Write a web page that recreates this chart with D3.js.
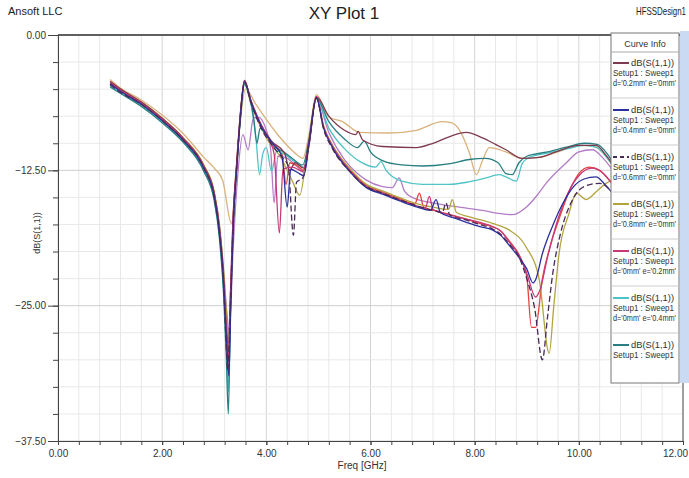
<!DOCTYPE html>
<html>
<head>
<meta charset="utf-8">
<script src="https://cdn.jsdelivr.net/npm/d3@7"></script>
<style>
  body { margin: 0; background: #fff; }
  text { font-family: "Liberation Sans Narrow", "Arial Narrow", "Liberation Sans", Arial, sans-serif; }
</style>
</head>
<body>
<div id="chart"></div>
<script>
// readings: [freq GHz, dB]
var s_d02 = [[1.0,-4.3],[1.2,-5.0],[1.6,-6.2],[2.0,-7.7],[2.4,-9.5],[2.8,-12.1],[3.0,-14.6],[3.1,-17.8],[3.18,-22.4],[3.23,-27],[3.27,-30],[3.31,-24],[3.36,-17],[3.43,-11.8],[3.5,-7.3],[3.58,-4.2],
  [3.7,-6.0],[3.9,-8.3],[4.1,-9.8],[4.35,-10.9],[4.45,-12.5],[4.55,-11.8],[4.72,-12.3],[4.82,-9.8],[4.96,-5.7],
  [5.2,-7.5],[5.5,-8.8],[5.72,-9.2],[5.76,-8.9],[5.85,-9.7],[6.23,-10.3],[6.88,-10.4],[7.2,-10.0],[7.51,-9.4],[7.84,-9.0],[8.15,-9.5],[8.4,-10.1],[8.6,-10.6],[8.91,-11.4],[9.24,-11.3],[9.56,-10.8],[10.0,-10.2],[10.33,-10.2],[10.52,-11.1],[10.7,-12.3],[10.9,-13.8]];

var s_d04 = [[1.0,-4.5],[1.2,-5.2],[1.6,-6.4],[2.0,-7.9],[2.4,-9.7],[2.8,-12.3],[3.0,-14.9],[3.1,-18.2],[3.18,-23],[3.23,-27.8],[3.28,-31.5],[3.32,-24.5],[3.37,-17],[3.44,-11.8],[3.5,-7.6],[3.58,-4.3],
  [3.7,-6.1],[3.9,-8.4],[4.1,-9.9],[4.3,-11.2],[4.4,-15.9],[4.47,-12.4],[4.6,-12.7],[4.72,-13.0],[4.82,-10.0],[4.96,-5.8],
  [5.1,-8.6],[5.27,-10.4],[5.6,-12.6],[5.92,-14.1],[6.23,-14.7],[6.55,-15.3],[6.9,-15.9],[7.15,-16.2],[7.26,-15.2],[7.34,-16.4],[7.6,-16.9],[7.84,-17.3],[8.1,-17.7],[8.34,-18.0],[8.5,-18.5],[8.66,-19.4],[8.86,-20.6],[9.0,-21.6],[9.12,-22.9],[9.17,-22.6],[9.3,-20.2],[9.5,-17.6],[9.7,-15.5],[9.9,-14.0],[10.1,-13.3],[10.33,-13.1],[10.5,-13.8],[10.7,-15.0],[10.9,-16.5]];

var s_d06 = [[1.0,-4.6],[1.2,-5.3],[1.6,-6.4],[2.0,-7.9],[2.4,-9.7],[2.8,-12.3],[3.0,-15.0],[3.1,-18.3],[3.18,-23],[3.22,-27.5],[3.26,-31],[3.31,-25],[3.36,-18],[3.43,-12.2],[3.5,-7.7],[3.58,-4.4],
  [3.7,-6.2],[3.9,-8.6],[4.1,-10.1],[4.3,-11.3],[4.42,-12.1],[4.52,-18.5],[4.58,-13.6],[4.7,-13.2],[4.82,-10.1],[4.96,-5.8],
  [5.1,-8.7],[5.27,-10.5],[5.6,-12.6],[5.92,-14.0],[6.23,-14.6],[6.55,-15.2],[6.9,-15.8],[7.2,-16.2],[7.38,-16.4],[7.45,-15.5],[7.52,-16.6],[7.84,-17.1],[8.1,-17.5],[8.34,-17.9],[8.5,-18.4],[8.66,-19.3],[8.86,-20.6],[9.0,-22.5],[9.15,-25.2],[9.3,-30.0],[9.4,-26.0],[9.5,-22.0],[9.65,-18.3],[9.85,-15.5],[10.1,-14.0],[10.4,-13.7],[10.6,-14.3],[10.9,-16.0]];

var s_d08 = [[1.0,-4.4],[1.2,-5.1],[1.6,-6.2],[2.0,-7.7],[2.4,-9.5],[2.8,-12.0],[3.0,-14.5],[3.1,-17.6],[3.18,-21.8],[3.23,-25.5],[3.28,-28],[3.32,-23.5],[3.37,-16.8],[3.44,-11.6],[3.5,-7.6],[3.58,-4.5],
  [3.7,-6.3],[4.0,-9.5],[4.3,-11.5],[4.5,-13.5],[4.64,-14.8],[4.8,-10.2],[4.96,-5.8],
  [5.1,-8.4],[5.27,-10.2],[5.6,-12.3],[5.92,-13.8],[6.23,-14.4],[6.55,-15.0],[6.9,-15.6],[7.2,-15.9],[7.5,-16.1],[7.57,-15.2],[7.65,-16.4],[7.9,-16.8],[8.34,-17.4],[8.66,-18.0],[8.99,-19.6],[9.24,-22.6],[9.43,-29.4],[9.52,-25.0],[9.62,-20.2],[9.81,-16.5],[9.95,-14.6],[10.14,-15.2],[10.35,-14.4],[10.52,-13.7],[10.7,-13.4],[10.9,-14.0]];

var s_e02 = [[1.0,-4.4],[1.2,-5.1],[1.6,-6.3],[2.0,-7.8],[2.4,-9.6],[2.8,-12.2],[3.0,-14.8],[3.1,-18],[3.18,-22.6],[3.23,-27.2],[3.27,-30.5],[3.31,-24.2],[3.36,-17.2],[3.43,-12],[3.5,-7.5],[3.58,-4.3],
  [3.7,-6.0],[3.9,-8.3],[4.05,-9.6],[4.15,-11.0],[4.25,-18.3],[4.32,-12.4],[4.5,-12.2],[4.7,-12.6],[4.82,-10.0],[4.96,-5.7],
  [5.1,-8.5],[5.27,-10.3],[5.6,-12.5],[5.92,-14.0],[6.23,-14.6],[6.55,-15.2],[6.9,-15.8],[7.05,-16.0],[7.13,-14.9],[7.2,-16.1],[7.5,-16.6],[7.84,-17.0],[8.1,-17.3],[8.34,-17.7],[8.5,-18.1],[8.66,-19.1],[8.86,-20.4],[9.0,-22.0],[9.17,-24.2],[9.25,-23.6],[9.4,-20.5],[9.6,-17.0],[9.8,-14.5],[10.0,-13.0],[10.25,-12.3],[10.45,-12.7],[10.65,-13.8],[10.9,-15.5]];

var s_e04 = [[1.0,-4.7],[1.2,-5.3],[1.6,-6.5],[2.0,-8.0],[2.4,-9.8],[2.8,-12.5],[3.0,-15.2],[3.1,-18.6],[3.18,-23.5],[3.23,-28.5],[3.27,-33],[3.31,-25],[3.36,-17.5],[3.43,-12.2],[3.5,-7.8],[3.58,-4.6],
  [3.65,-5.2],[3.72,-6.8],[3.8,-9.5],[3.87,-12.9],[3.93,-11.0],[4.0,-10.4],[4.1,-12.6],[4.2,-10.7],[4.4,-11.2],[4.6,-11.9],[4.72,-12.2],[4.82,-9.8],[4.96,-5.9],
  [5.2,-8.6],[5.5,-10.5],[5.8,-11.7],[6.1,-12.2],[6.2,-11.7],[6.3,-12.5],[6.6,-13.5],[7.0,-13.8],[7.5,-13.8],[7.85,-13.6],[8.22,-13.2],[8.47,-12.9],[8.6,-13.1],[8.8,-13.5],[8.91,-11.9],[9.05,-11.3],[9.4,-10.9],[9.8,-10.5],[10.1,-10.2],[10.35,-10.4],[10.55,-11.4],[10.75,-12.8],[10.9,-14.0]];

var s_e06 = [[1.0,-4.8],[1.2,-5.4],[1.6,-6.6],[2.0,-8.1],[2.4,-9.9],[2.8,-12.6],[3.0,-15.3],[3.1,-18.8],[3.18,-24],[3.23,-29.5],[3.27,-35],[3.31,-25.5],[3.36,-17.8],[3.43,-12.3],[3.5,-7.8],[3.58,-4.5],
  [3.68,-5.6],[3.76,-7.8],[3.82,-10.0],[3.88,-8.6],[4.0,-9.2],[4.12,-10.2],[4.3,-10.7],[4.5,-11.4],[4.7,-12.0],[4.82,-9.7],[4.96,-5.8],
  [5.2,-8.0],[5.5,-9.6],[5.75,-10.4],[5.88,-9.8],[6.0,-10.8],[6.23,-11.6],[6.6,-12.0],[7.0,-12.1],[7.5,-11.9],[7.9,-11.5],[8.2,-11.4],[8.45,-11.8],[8.6,-12.8],[8.72,-12.9],[8.85,-11.8],[9.0,-11.2],[9.4,-10.8],[9.8,-10.3],[10.1,-10.0],[10.35,-10.1],[10.55,-11.0],[10.75,-12.6],[10.9,-13.8]];

var s_red = [[1.0,-4.3],[1.2,-5.0],[1.6,-6.2],[2.0,-7.7],[2.4,-9.5],[2.8,-12.1],[3.0,-14.7],[3.1,-17.9],[3.18,-22.3],[3.24,-27],[3.28,-29.5],[3.32,-23.8],[3.37,-16.8],[3.44,-11.6],[3.5,-7.4],[3.58,-4.2],
  [3.7,-6.1],[3.9,-8.4],[4.1,-9.9],[4.3,-11.0],[4.38,-13.8],[4.45,-11.8],[4.6,-12.1],[4.72,-12.5],[4.82,-10.0],[4.96,-5.7],
  [5.1,-8.5],[5.27,-10.2],[5.6,-12.4],[5.92,-13.9],[6.23,-14.5],[6.55,-15.1],[6.85,-15.6],[6.94,-14.6],[7.02,-15.9],[7.3,-16.3],[7.84,-17.0],[8.1,-17.4],[8.34,-17.7],[8.5,-18.1],[8.66,-19.0],[8.86,-20.4],[9.0,-22.3],[9.09,-27.0],[9.17,-27.0],[9.3,-22.5],[9.45,-19.5],[9.62,-17.0],[9.81,-14.5],[10.0,-12.8],[10.2,-12.2],[10.4,-12.5],[10.6,-13.5],[10.9,-15.5]];

var s_tan = [[1.0,-4.1],[1.2,-4.9],[1.6,-6.0],[2.0,-7.4],[2.4,-9.1],[2.8,-11.3],[3.0,-12.3],[3.16,-13.4],[3.33,-17.4],[3.42,-12.5],[3.5,-8.0],[3.6,-5.0],
  [3.8,-6.4],[4.0,-7.8],[4.2,-9.1],[4.4,-10.2],[4.6,-11.1],[4.7,-11.4],[4.82,-9.2],[4.96,-5.5],
  [5.21,-7.6],[5.46,-8.0],[5.79,-9.0],[6.36,-9.05],[6.88,-8.8],[7.38,-8.0],[7.55,-8.1],[7.71,-8.8],[7.9,-10.9],[8.03,-12.9],[8.15,-11.6],[8.28,-10.4],[8.6,-10.8],[8.91,-11.4],[9.24,-11.3],[9.6,-10.8],[10.0,-10.2],[10.3,-10.3],[10.52,-11.2],[10.7,-12.5],[10.9,-14.0]];

var s_vio = [[1.0,-4.5],[1.2,-5.2],[1.6,-6.3],[2.0,-7.8],[2.4,-9.6],[2.8,-12.2],[3.0,-14.6],[3.1,-17.6],[3.18,-21.8],[3.24,-25.5],[3.29,-27.5],[3.36,-20],[3.45,-13],[3.55,-9.2],[3.65,-10.6],[3.75,-7.7],
  [3.85,-7.6],[4.0,-8.8],[4.08,-10.4],[4.15,-15.5],[4.22,-11.2],[4.4,-11.4],[4.6,-12.2],[4.72,-12.7],[4.82,-10.2],[4.96,-5.9],
  [5.2,-9.0],[5.5,-11.5],[5.75,-12.8],[5.92,-13.4],[6.23,-14.0],[6.42,-14.1],[6.55,-13.2],[6.65,-14.4],[6.8,-15.0],[7.19,-15.5],[7.7,-15.9],[8.15,-16.2],[8.5,-16.5],[8.72,-16.6],[8.99,-15.9],[9.2,-14.8],[9.37,-13.7],[9.76,-11.8],[10.0,-10.8],[10.26,-10.6],[10.45,-11.3],[10.65,-12.5],[10.9,-14.5]];

// curve list (legend shows the first seven, the rest are scrolled out of view)
var curveNames = ["d='0.2mm' e='0mm'", "d='0.4mm' e='0mm'", "d='0.6mm' e='0mm'", "d='0.8mm' e='0mm'",
                  "d='0mm' e='0.2mm'", "d='0mm' e='0.4mm'", "d='0mm' e='0.6mm'", "", "", ""];
var curveData = [s_d02, s_d04, s_d06, s_d08, s_e02, s_e04, s_e06, s_red, s_tan, s_vio];
var curveColors = ["#7d3a4e", "#2a2f9c", "#4a2a58", "#b3a440", "#c63878", "#4fc3c6", "#287e80", "#e6433f", "#d9b27c", "#b37cc6"];
var curveDash = [null, null, "6,3", null, null, null, null, null, null, null];

var yTicks = [0, -12.5, -25, -37.5];
var xTicks = [0, 2, 4, 6, 8, 10, 12];

var width = 689, height = 478;
var svg = d3.select("#chart").append("svg")
  .attr("width", width)
  .attr("height", height);

var x = d3.scaleLinear().domain([0, 12]).range([58, 683]);
var y = d3.scaleLinear().domain([0, -37.5]).range([35, 441]);

// grid
var grid = svg.append("g");
d3.range(0, 12.01, 0.4).forEach(function (f) {
  grid.append("line")
    .attr("x1", x(f)).attr("x2", x(f))
    .attr("y1", y(0)).attr("y2", y(-37.5))
    .attr("stroke", Math.abs(f / 2 - Math.round(f / 2)) < 1e-6 ? "#d4d4d4" : "#e8e8e8")
    .attr("stroke-width", 1);
});
d3.range(0, -37.51, -2.5).forEach(function (v) {
  grid.append("line")
    .attr("x1", x(0)).attr("x2", x(12))
    .attr("y1", y(v)).attr("y2", y(v))
    .attr("stroke", v % 12.5 === 0 ? "#cfcfcf" : "#e8e8e8")
    .attr("stroke-width", 1);
});

// curves
var line = d3.line()
  .x(function (d) { return x(d[0]); })
  .y(function (d) { return y(d[1]); })
  .curve(d3.curveMonotoneX);

var order = [8, 9, 7, 3, 5, 6, 0, 4, 1, 2];
order.forEach(function (i) {
  svg.append("path")
    .datum(curveData[i])
    .attr("fill", "none")
    .attr("stroke", curveColors[i])
    .attr("stroke-width", 1.3)
    .attr("stroke-dasharray", curveDash[i])
    .attr("d", line);
});

// axes
var axisColor = "#444";
var yMinor = svg.append("g")
  .attr("transform", "translate(" + x(0) + ",0)")
  .call(d3.axisLeft(y).tickValues(d3.range(0, -37.51, -2.5)).tickSize(5).tickFormat(""));
var yMajor = svg.append("g")
  .attr("transform", "translate(" + x(0) + ",0)")
  .call(d3.axisLeft(y).tickValues(yTicks).tickSize(10).tickPadding(2)
    .tickFormat(function (d) { return d3.format(".2f")(d); }));
var xMinor = svg.append("g")
  .attr("transform", "translate(0," + y(-37.5) + ")")
  .call(d3.axisBottom(x).tickValues(d3.range(0, 12.01, 0.4)).tickSize(4).tickFormat(""));
var xMajor = svg.append("g")
  .attr("transform", "translate(0," + y(-37.5) + ")")
  .call(d3.axisBottom(x).tickValues(xTicks).tickSize(4).tickPadding(5)
    .tickFormat(function (d) { return d3.format(".2f")(d); }));

[yMinor, yMajor, xMinor, xMajor].forEach(function (g) {
  g.select(".domain").attr("stroke", axisColor);
  g.selectAll(".tick line").attr("stroke", axisColor);
  g.selectAll("text").attr("fill", "#333").style("font-size", "10px");
});
// keep the last x label inside the window
xMajor.selectAll(".tick text").filter(function (d) { return d === 12; }).attr("dx", -8);

// top frame line and right edge
svg.append("line").attr("x1", x(0)).attr("x2", x(12)).attr("y1", y(0)).attr("y2", y(0))
  .attr("stroke", "#333").attr("stroke-width", 1.5);
svg.append("line").attr("x1", x(12)).attr("x2", x(12)).attr("y1", y(0)).attr("y2", y(-37.5))
  .attr("stroke", "#555").attr("stroke-width", 1);

// titles
svg.append("text").attr("x", 8).attr("y", 15).style("font-size", "11px").attr("fill", "#222").text("Ansoft LLC");
svg.append("text").attr("x", 344).attr("y", 19).attr("text-anchor", "middle").style("font-size", "17px").attr("fill", "#222").text("XY Plot 1");
svg.append("text").attr("x", 636).attr("y", 15)
  .attr("textLength", 50).attr("lengthAdjust", "spacingAndGlyphs")
  .style("font-size", "11px").attr("fill", "#222").text("HFSSDesign1");
svg.append("text").attr("x", 362).attr("y", 469).attr("text-anchor", "middle").style("font-size", "10px").attr("fill", "#333").text("Freq [GHz]");
svg.append("text").attr("transform", "translate(40,233) rotate(-90)").attr("text-anchor", "middle")
  .style("font-size", "9px").attr("fill", "#333").text("dB(S(1,1))");

// legend box
var lg = svg.append("g");
lg.append("rect").attr("x", 680).attr("y", 31).attr("width", 9).attr("height", 352).attr("fill", "#c9daf2");
lg.append("rect").attr("x", 611).attr("y", 33).attr("width", 68).attr("height", 350)
  .attr("fill", "#fff").attr("stroke", "#777").attr("stroke-width", 1);
lg.append("text").attr("x", 645).attr("y", 47).attr("text-anchor", "middle").style("font-size", "9px").attr("fill", "#333").text("Curve Info");
lg.append("line").attr("x1", 611).attr("x2", 679).attr("y1", 52).attr("y2", 52).attr("stroke", "#aaa");

for (var i = 0; i < 7; i++) {
  var rowTop = 52 + i * 47;
  lg.append("line").attr("x1", 613).attr("x2", 629).attr("y1", rowTop + 11).attr("y2", rowTop + 11)
    .attr("stroke", curveColors[i]).attr("stroke-width", 2).attr("stroke-dasharray", curveDash[i] ? "4,3" : null);
  lg.append("text").attr("x", 631).attr("y", rowTop + 14)
    .attr("textLength", 43).attr("lengthAdjust", "spacingAndGlyphs")
    .style("font-size", "9px").attr("fill", "#333").text("dB(S(1,1))");
  lg.append("text").attr("x", 613).attr("y", rowTop + 24)
    .attr("textLength", 61).attr("lengthAdjust", "spacingAndGlyphs")
    .style("font-size", "9px").attr("fill", "#333").text("Setup1 : Sweep1");
  if (i < 6) {
    lg.append("text").attr("x", 613).attr("y", rowTop + 34)
      .attr("textLength", 63).attr("lengthAdjust", "spacingAndGlyphs")
      .style("font-size", "9px").attr("fill", "#333").text(curveNames[i]);
    lg.append("line").attr("x1", 611).attr("x2", 679).attr("y1", rowTop + 46).attr("y2", rowTop + 46).attr("stroke", "#ccc");
  }
}
</script>
</body>
</html>
